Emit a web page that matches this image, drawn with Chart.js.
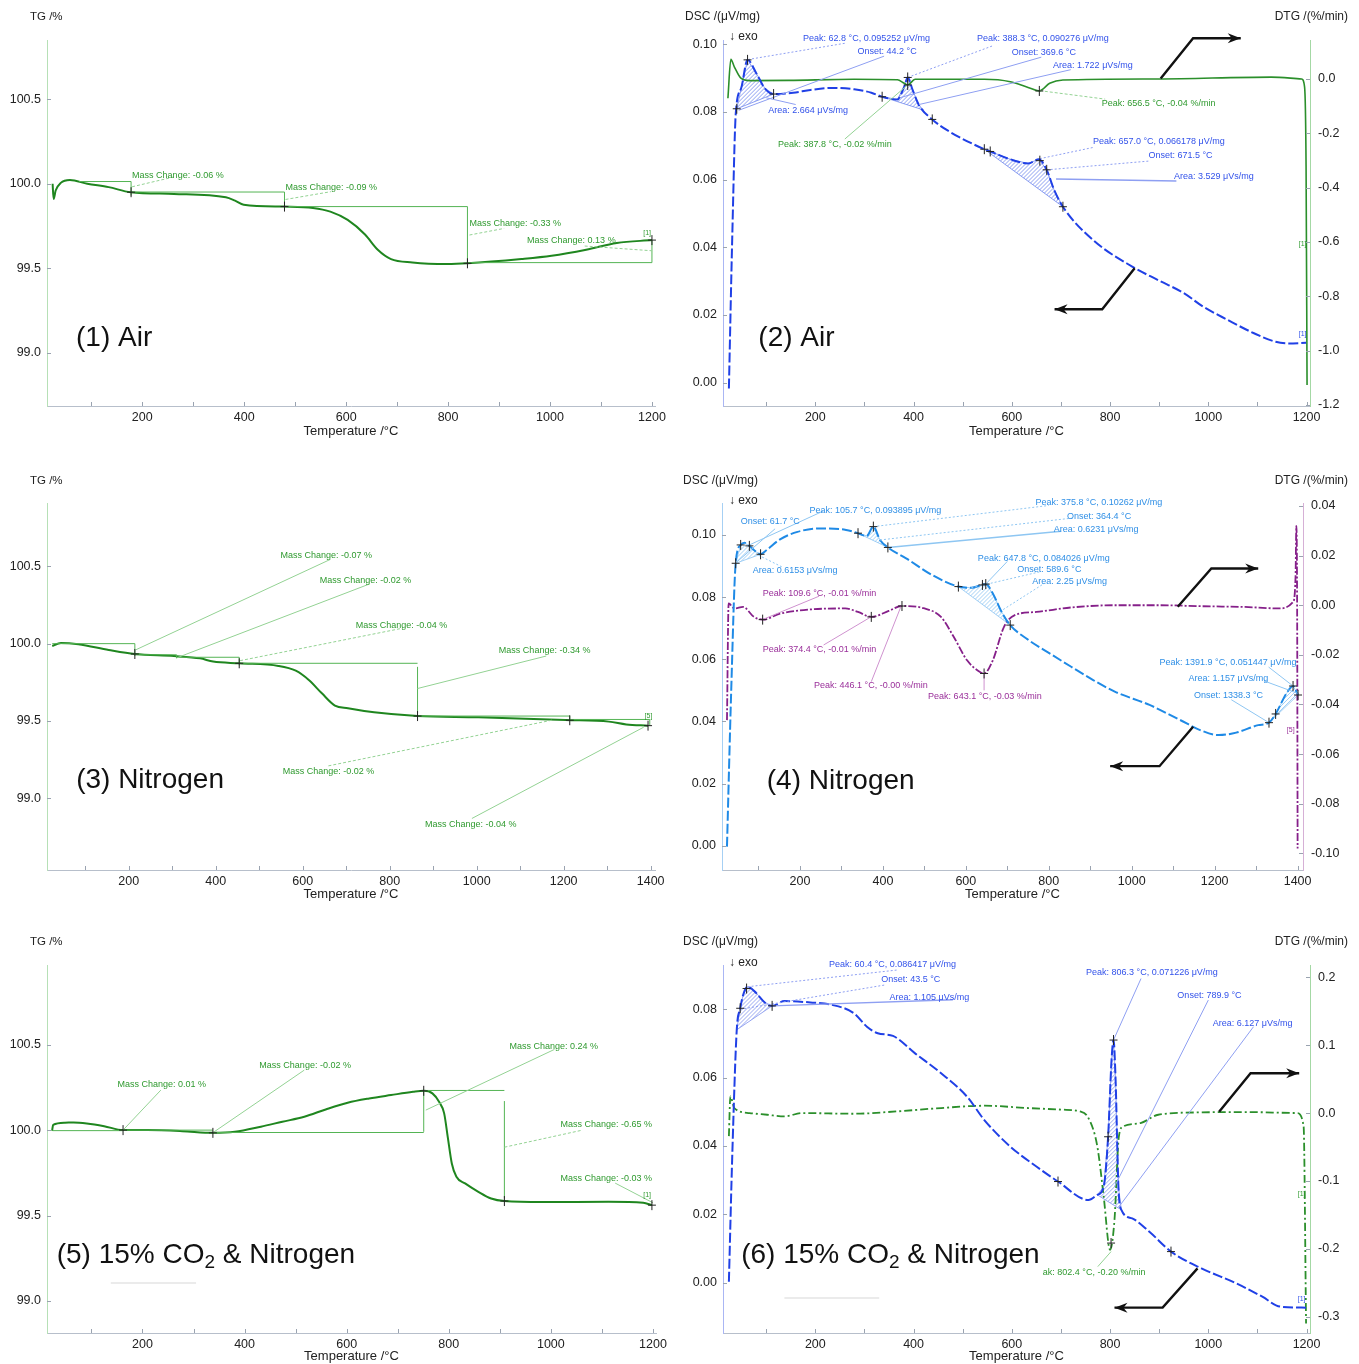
<!DOCTYPE html>
<html>
<head>
<meta charset="utf-8">
<script src="https://cdn.jsdelivr.net/npm/chart.js@4.4.1/dist/chart.umd.min.js"></script>
<style>
  body { margin: 0; background: #fff; width: 1359px; height: 1364px; position: relative; overflow: hidden; }
  canvas { position: absolute; }
</style>
</head>
<body>
<canvas id="c1" width="680" height="460" style="left:0;top:0"></canvas>
<canvas id="c2" width="679" height="460" style="left:680px;top:0"></canvas>
<canvas id="c3" width="680" height="460" style="left:0;top:460px"></canvas>
<canvas id="c4" width="679" height="460" style="left:680px;top:460px"></canvas>
<canvas id="c5" width="680" height="444" style="left:0;top:920px"></canvas>
<canvas id="c6" width="679" height="444" style="left:680px;top:920px"></canvas>
<script>
// ---- data ----
const xTicks1200 = [100, 200, 300, 400, 500, 600, 700, 800, 900, 1000, 1100, 1200];
const xTicks1400 = [100, 200, 300, 400, 500, 600, 700, 800, 900, 1000, 1100, 1200, 1300, 1400];
const tgTicks = [99.0, 99.5, 100.0, 100.5];

// (1) TG, air
const p1T  = [24, 26, 30, 40, 58, 92, 134, 177, 262, 364, 382, 399, 479, 535, 569, 603, 637, 662, 688, 730, 798, 838, 944, 1003, 1071, 1131, 1200];
const p1TG = [100.0, 99.91, 99.96, 100.005, 100.022, 100.0, 99.98, 99.95, 99.94, 99.92, 99.90, 99.876, 99.865, 99.857, 99.835, 99.786, 99.70, 99.61, 99.555, 99.535, 99.526, 99.53, 99.555, 99.574, 99.61, 99.65, 99.667];

// (2) DSC / DTG, air
const p2T   = [24, 31, 38, 49, 62, 80, 97, 115, 155, 190, 235, 279, 314, 336, 367, 381, 388, 398, 411, 438, 473, 544, 562, 597, 633, 655, 671, 686, 704, 765, 845, 898, 951, 987, 1040, 1093, 1137, 1164, 1199];
const p2DSC = [-0.0017, 0.044, 0.0796, 0.087, 0.0954, 0.0914, 0.087, 0.0853, 0.0857, 0.0865, 0.0871, 0.0867, 0.0857, 0.0845, 0.0837, 0.0875, 0.0902, 0.0865, 0.082, 0.0778, 0.0742, 0.069, 0.068, 0.066, 0.0648, 0.066, 0.0629, 0.057, 0.052, 0.0422, 0.0343, 0.0303, 0.0264, 0.0227, 0.0185, 0.0146, 0.0121, 0.0116, 0.0118];
const p2dT  = [22, 28, 35, 49, 66, 146, 279, 367, 381, 388, 403, 544, 597, 633, 656, 677, 704, 898, 1128, 1190, 1196, 1199, 1201];
const p2DTG = [-0.071, 0.072, 0.045, 0.002, -0.006, -0.005, -0.001, -0.003, -0.016, -0.022, -0.001, -0.001, -0.01, -0.031, -0.044, -0.016, -0.004, 0.0, 0.007, 0.0, -0.03, -0.32, -1.126];
const p2DscTicks = [0, 0.02, 0.04, 0.06, 0.08, 0.10];
const p2DtgTicks = [0, -0.2, -0.4, -0.6, -0.8, -1.0, -1.2];

// (3) TG, nitrogen
const p3T  = [24, 44, 84, 154, 214, 304, 364, 394, 454, 544, 584, 614, 644, 674, 704, 764, 864, 1004, 1204, 1304, 1344, 1394];
const p3TG = [99.985, 100.004, 99.996, 99.959, 99.933, 99.92, 99.905, 99.884, 99.873, 99.856, 99.825, 99.765, 99.679, 99.60, 99.582, 99.556, 99.532, 99.524, 99.506, 99.496, 99.478, 99.47];

// (4) DSC / DTG, nitrogen
const p4T   = [24, 34, 45, 57, 66, 78, 94, 105, 120, 152, 194, 246, 299, 330, 361, 377, 393, 412, 456, 519, 582, 613, 648, 665, 686, 707, 749, 802, 854, 907, 959, 1043, 1116, 1169, 1210, 1252, 1305, 1331, 1347, 1373, 1389, 1401];
const p4DSC = [-0.0003, 0.049, 0.0909, 0.0968, 0.0975, 0.0965, 0.0946, 0.0938, 0.0952, 0.0986, 0.101, 0.1021, 0.1019, 0.101, 0.0997, 0.1027, 0.0984, 0.096, 0.0925, 0.0871, 0.0834, 0.083, 0.0842, 0.0812, 0.0753, 0.071, 0.0664, 0.0619, 0.0576, 0.0533, 0.0496, 0.0453, 0.0405, 0.037, 0.0356, 0.0364, 0.0388, 0.0396, 0.0424, 0.049, 0.0514, 0.0485];
const p4dT  = [24, 28, 42, 63, 89, 110, 152, 225, 309, 340, 372, 414, 445, 498, 540, 571, 603, 634, 644, 665, 692, 718, 770, 854, 959, 1064, 1169, 1273, 1357, 1389, 1395, 1397, 1399, 1400];
const p4DTG = [-0.0463, 0.0007, -0.0013, -0.0007, -0.0047, -0.0058, -0.0034, -0.0017, -0.0013, -0.0027, -0.0047, -0.0023, -0.0003, -0.0012, -0.0047, -0.0128, -0.0222, -0.0269, -0.0275, -0.0222, -0.0087, -0.004, -0.0027, -0.0009, 0.0, 0.0, -0.0004, -0.0007, -0.0013, 0.0013, 0.0114, 0.032, -0.0087, -0.098];
const p4DscTicks = [0, 0.02, 0.04, 0.06, 0.08, 0.10];
const p4DtgTicks = [0.04, 0.02, 0, -0.02, -0.04, -0.06, -0.08, -0.10];

// (5) TG, 15% CO2 & nitrogen
const p5T  = [23, 25, 48, 65, 91, 125, 162, 210, 278, 338, 381, 432, 474, 517, 559, 602, 644, 687, 730, 751, 768, 781, 791, 798, 806, 815, 832, 858, 883, 909, 985, 1113, 1181, 1198];
const p5TG = [99.996, 100.03, 100.043, 100.045, 100.039, 100.023, 100.0, 100.0, 99.994, 99.984, 99.99, 100.02, 100.049, 100.078, 100.121, 100.16, 100.185, 100.205, 100.224, 100.23, 100.215, 100.166, 100.098, 99.961, 99.805, 99.727, 99.688, 99.639, 99.6, 99.585, 99.579, 99.581, 99.575, 99.561];

// (6) DSC / DTG, 15% CO2 & nitrogen
const p6T   = [24, 31, 40, 47, 53, 62, 80, 97, 112, 137, 190, 234, 279, 305, 327, 358, 403, 456, 509, 544, 597, 650, 694, 756, 774, 787, 796, 803, 807, 811, 817, 823, 845, 880, 924, 986, 1057, 1110, 1146, 1199];
const p6DSC = [0.0003, 0.0379, 0.074, 0.0803, 0.0842, 0.0866, 0.0847, 0.082, 0.081, 0.0824, 0.082, 0.0813, 0.0788, 0.0749, 0.073, 0.0722, 0.0671, 0.0613, 0.0544, 0.0476, 0.0398, 0.034, 0.0296, 0.0242, 0.0257, 0.0281, 0.0427, 0.0652, 0.071, 0.0603, 0.0281, 0.0213, 0.0188, 0.0149, 0.0091, 0.0042, -0.0002, -0.0041, -0.007, -0.0073];
const p6dT  = [24, 27, 35, 66, 102, 137, 173, 279, 367, 456, 544, 633, 703, 739, 756, 774, 787, 800, 809, 818, 827, 862, 898, 986, 1075, 1181, 1194, 1199];
const p6DTG = [-0.034, 0.0246, 0.0074, 0.0, -0.0025, -0.005, 0.0, -0.001, 0.0025, 0.0074, 0.0108, 0.0074, 0.005, 0.0025, -0.0074, -0.049, -0.123, -0.2014, -0.157, -0.034, -0.0196, -0.0147, -0.0025, 0.001, 0.0015, 0.0, -0.0196, -0.31];
const p6DscTicks = [0, 0.02, 0.04, 0.06, 0.08];
const p6DtgTicks = [0.2, 0.1, 0, -0.1, -0.2, -0.3];

// ---- styles ----
const FONT = '"Liberation Sans", Arial, sans-serif';
const TICK = '#222';
const TG_GREEN = '#1f861f';
const DSC_BLUE = '#2040e6';
const DSC_LBLUE = '#1f8ae6';
const DTG_GREEN = '#2b8f2b';
const DTG_PURPLE = '#86208a';
const TXT_G = '#2f9a2f', TXT_B = '#3252ea', TXT_LB = '#2f8fe6', TXT_P = '#9a2f9a';
const STEP_G = '#54b454', LEAD_G = '#93d293', LEAD_B = '#8e9ff2', LEAD_LB = '#8ec6f2', LEAD_P = '#cf92cf';

function toXY(xs, ys) {
  return xs.map((x, i) => ({ x: x, y: ys[i] }));
}

function valueAt(ds, t) {
  const d = ds.data;
  for (let i = 1; i < d.length; i++) {
    if (d[i].x >= t) {
      const a = d[i - 1], b = d[i];
      return a.y + (b.y - a.y) * (t - a.x) / (b.x - a.x);
    }
  }
  return d[d.length - 1].y;
}

function toPx(chart, axis, x, y) {
  return [chart.scales.x.getPixelForValue(x), chart.scales[axis || 'y'].getPixelForValue(y)];
}

function polyline(ctx, chart, axis, pts) {
  ctx.beginPath();
  pts.forEach((p, i) => {
    const [px, py] = toPx(chart, axis, p[0], p[1]);
    if (i === 0) ctx.moveTo(px, py); else ctx.lineTo(px, py);
  });
  ctx.stroke();
}

function drawHatch(chart, h) {
  const ctx = chart.ctx;
  const ds = chart.data.datasets[h.ds];
  const axis = ds.yAxisID || 'y';
  const pts = [[h.from, valueAt(ds, h.from)]];
  ds.data.forEach((p) => { if (p.x > h.from && p.x < h.to) pts.push([p.x, p.y]); });
  pts.push([h.to, valueAt(ds, h.to)]);
  const pix = pts.map((p) => toPx(chart, axis, p[0], p[1]));
  ctx.save();
  ctx.strokeStyle = h.c;
  ctx.lineWidth = 0.8;
  ctx.beginPath();
  pix.forEach((p, i) => { if (i === 0) ctx.moveTo(p[0], p[1]); else ctx.lineTo(p[0], p[1]); });
  ctx.closePath();
  ctx.stroke();
  ctx.clip();
  const xs = pix.map((p) => p[0]), ys = pix.map((p) => p[1]);
  const x0 = Math.min(...xs), x1 = Math.max(...xs), y0 = Math.min(...ys), y1 = Math.max(...ys);
  ctx.beginPath();
  for (let k = x0 - (y1 - y0); k < x1; k += 4) {
    ctx.moveTo(k, y1);
    ctx.lineTo(k + (y1 - y0), y0);
  }
  ctx.stroke();
  ctx.restore();
}

const deco = {
  id: 'deco',
  beforeDatasetsDraw(chart, args, o) {
    (o.hatches || []).forEach((h) => drawHatch(chart, h));
  },
  afterDatasetsDraw(chart, args, o) {
    const ctx = chart.ctx;
    const area = chart.chartArea;
    ctx.save();
    // inner tick marks
    ctx.strokeStyle = '#9aa3b0';
    ctx.lineWidth = 1;
    ctx.beginPath();
    chart.scales.x.ticks.forEach((t) => {
      const x = Math.round(chart.scales.x.getPixelForValue(t.value)) + 0.5;
      ctx.moveTo(x, area.bottom); ctx.lineTo(x, area.bottom - 4);
    });
    ['y', 'y2'].forEach((id) => {
      const s = chart.scales[id];
      if (!s) return;
      const edge = id === 'y' ? area.left : area.right;
      const dir = id === 'y' ? 4 : -4;
      s.ticks.forEach((t) => {
        const y = Math.round(s.getPixelForValue(t.value)) + 0.5;
        ctx.moveTo(edge, y); ctx.lineTo(edge + dir, y);
      });
    });
    ctx.stroke();

    // annotation lines
    (o.lines || []).forEach((l) => {
      ctx.strokeStyle = l.c;
      ctx.lineWidth = l.w || 1;
      ctx.setLineDash(l.d || []);
      polyline(ctx, chart, l.a, l.p);
    });
    ctx.setLineDash([]);

    // cross markers
    ctx.strokeStyle = '#222';
    ctx.lineWidth = 1;
    (o.marks || []).forEach((m) => {
      const ds = chart.data.datasets[m.ds];
      m.at.forEach((t) => {
        const [x, y] = toPx(chart, ds.yAxisID || 'y', t, valueAt(ds, t));
        ctx.beginPath();
        ctx.moveTo(x - 4, y); ctx.lineTo(x + 4, y);
        ctx.moveTo(x, y - 5); ctx.lineTo(x, y + 5);
        ctx.stroke();
      });
    });

    // black arrows
    (o.arrows || []).forEach((a) => {
      ctx.strokeStyle = '#111';
      ctx.fillStyle = '#111';
      ctx.lineWidth = 2.4;
      polyline(ctx, chart, 'y', a);
      const [ax, ay] = toPx(chart, 'y', a[a.length - 2][0], a[a.length - 2][1]);
      const [bx, by] = toPx(chart, 'y', a[a.length - 1][0], a[a.length - 1][1]);
      const ang = Math.atan2(by - ay, bx - ax);
      ctx.beginPath();
      ctx.moveTo(bx, by);
      ctx.lineTo(bx - 13 * Math.cos(ang) + 5 * Math.sin(ang), by - 13 * Math.sin(ang) - 5 * Math.cos(ang));
      ctx.lineTo(bx - 9 * Math.cos(ang), by - 9 * Math.sin(ang));
      ctx.lineTo(bx - 13 * Math.cos(ang) - 5 * Math.sin(ang), by - 13 * Math.sin(ang) + 5 * Math.cos(ang));
      ctx.closePath();
      ctx.fill();
    });

    // small annotation texts
    ctx.textBaseline = 'middle';
    ctx.textAlign = 'left';
    (o.texts || []).forEach((t) => {
      ctx.font = (t.s || 9) + 'px ' + FONT;
      ctx.fillStyle = t.c;
      const [x, y] = toPx(chart, t.a, t.x, t.y);
      ctx.fillText(t.t, x, y);
    });

    // big panel labels
    (o.rich || []).forEach((r) => {
      let [x, y] = toPx(chart, r.a, r.x, r.y);
      ctx.fillStyle = '#111';
      ctx.textBaseline = 'alphabetic';
      r.parts.forEach((p) => {
        ctx.font = p[1] + 'px ' + FONT;
        ctx.fillText(p[0], x, y + 10 + p[2]);
        x += ctx.measureText(p[0]).width;
      });
    });

    // headers (axis names) and x axis title
    ctx.fillStyle = '#222';
    ctx.textBaseline = 'middle';
    (o.head || []).forEach((h) => {
      ctx.font = (h.s || 12) + 'px ' + FONT;
      ctx.textAlign = h.al || 'left';
      ctx.fillText(h.t, h.x, h.y);
    });
    ctx.font = '13px ' + FONT;
    ctx.textAlign = 'center';
    ctx.fillText('Temperature /°C', (area.left + area.right) / 2, area.bottom + o.titleDy);
    ctx.restore();
  }
};
Chart.register(deco);

function yAxis(pos, a, w) {
  return {
    type: 'linear', position: pos, min: a.min, max: a.max,
    afterBuildTicks: (s) => { s.ticks = a.ticks.map((v) => ({ value: v })); },
    afterFit: (s) => { s.width = w; },
    ticks: { padding: pos === 'left' ? 6 : 8, color: TICK, font: { family: FONT, size: 12.5 }, callback: (v) => v.toFixed(a.dec) },
    grid: { display: false, drawTicks: false },
    border: { display: true, color: a.color, width: 1 },
  };
}

function build(id, o) {
  const scales = {
    x: {
      type: 'linear', min: o.xMin, max: o.xMax,
      afterBuildTicks: (s) => { s.ticks = o.xTicks.map((v) => ({ value: v })); },
      afterFit: (s) => { s.height = o.xH; },
      ticks: { autoSkip: false, maxRotation: 0, padding: 4, color: TICK, font: { family: FONT, size: 12.5 },
        callback: (v) => (v % 200 === 0 ? String(v) : '') },
      grid: { display: false, drawTicks: false },
      border: { display: true, color: '#b7bfcb', width: 1 },
    },
    y: yAxis('left', o.y, o.yW),
  };
  if (o.y2) scales.y2 = yAxis('right', o.y2, o.y2W);
  new Chart(document.getElementById(id), {
    type: 'line',
    data: { datasets: o.datasets },
    options: {
      responsive: false, animation: false, events: [],
      layout: { padding: { top: o.top, right: o.padR || 0, left: 0, bottom: 0 } },
      plugins: { legend: { display: false }, tooltip: { enabled: false }, deco: o.deco },
      elements: { point: { radius: 0 }, line: { cubicInterpolationMode: 'monotone', borderCapStyle: 'butt' } },
      scales: scales,
    },
  });
}

// ---- (1) ----
build('c1', {
  xMin: 13, xMax: 1206, xTicks: xTicks1200, xH: 54, top: 40, padR: 25, yW: 47,
  y: { min: 98.687, max: 100.849, ticks: tgTicks, dec: 1, color: '#b6e0b6' },
  datasets: [{ data: toXY(p1T, p1TG), borderColor: TG_GREEN, borderWidth: 2 }],
  deco: {
    titleDy: 25,
    head: [{ t: 'TG /%', x: 30, y: 17, s: 11.5 }],
    lines: [
      { c: STEP_G, p: [[76, 100.013], [178, 100.013], [178, 99.93]] },
      { c: STEP_G, p: [[178, 99.951], [479, 99.951], [479, 99.85]] },
      { c: STEP_G, p: [[479, 99.865], [838, 99.865], [838, 99.525]] },
      { c: STEP_G, p: [[838, 99.534], [1200, 99.534], [1200, 99.667]] },
      { c: LEAD_G, d: [3, 2], p: [[180, 99.982], [262, 100.04]] },
      { c: LEAD_G, d: [3, 2], p: [[481, 99.907], [570, 99.953]] },
      { c: LEAD_G, d: [3, 2], p: [[842, 99.697], [910, 99.736]] },
      { c: LEAD_G, d: [3, 2], p: [[1068, 99.632], [1200, 99.604]] },
    ],
    marks: [{ ds: 0, at: [178, 479, 838, 1200] }],
    texts: [
      { t: 'Mass Change: -0.06 %', x: 180, y: 100.047, c: TXT_G },
      { t: 'Mass Change: -0.09 %', x: 481, y: 99.976, c: TXT_G },
      { t: 'Mass Change: -0.33 %', x: 842, y: 99.766, c: TXT_G },
      { t: 'Mass Change: 0.13 %', x: 955, y: 99.667, c: TXT_G },
      { t: '[1]', x: 1183, y: 99.71, c: TXT_G, s: 7 },
    ],
    rich: [{ x: 70, y: 99.102, parts: [['(1) Air', 28, 0]] }],
  },
});

// ---- (2) ----
build('c2', {
  xMin: 12, xMax: 1207, xTicks: xTicks1200, xH: 54, top: 40, yW: 43, y2W: 49,
  y: { min: -0.00689, max: 0.10127, ticks: p2DscTicks, dec: 2, color: '#aab6f4' },
  y2: { min: -1.2037, max: 0.1435, ticks: p2DtgTicks, dec: 1, color: '#a4d8a4' },
  datasets: [
    { data: toXY(p2T, p2DSC), borderColor: DSC_BLUE, borderWidth: 2, borderDash: [10, 3], yAxisID: 'y' },
    { data: toXY(p2dT, p2DTG), borderColor: DTG_GREEN, borderWidth: 1.6, yAxisID: 'y2' },
  ],
  deco: {
    titleDy: 25,
    head: [
      { t: 'DSC /(μV/mg)', x: 5, y: 17 },
      { t: 'DTG /(%/min)', x: 668, y: 17, al: 'right' },
      { t: '↓ exo', x: 49, y: 37 },
    ],
    hatches: [
      { ds: 0, from: 40, to: 115, c: '#6f86ee' },
      { ds: 0, from: 336, to: 420, c: '#6f86ee' },
      { ds: 0, from: 544, to: 704, c: '#6f86ee' },
    ],
    lines: [
      { c: LEAD_B, d: [2, 2], p: [[63, 0.0955], [260, 0.1003]] },
      { c: LEAD_B, p: [[44, 0.0805], [340, 0.0965]] },
      { c: LEAD_B, d: [2, 2], p: [[388, 0.0902], [560, 0.0995]] },
      { c: LEAD_B, p: [[372, 0.0842], [660, 0.0962]] },
      { c: LEAD_B, p: [[411, 0.0822], [720, 0.0925]] },
      { c: LEAD_B, p: [[100, 0.0842], [160, 0.0822]] },
      { c: LEAD_B, d: [2, 2], p: [[657, 0.0662], [765, 0.0695]] },
      { c: LEAD_B, d: [2, 2], p: [[671, 0.0629], [880, 0.0655]] },
      { c: LEAD_B, w: 1.4, p: [[690, 0.0602], [935, 0.0596]] },
      { c: LEAD_G, p: [[388, 0.088], [260, 0.072]] },
      { c: LEAD_G, d: [3, 2], p: [[657, 0.0863], [790, 0.0838]] },
    ],
    marks: [
      { ds: 0, at: [40, 62, 115, 336, 388, 438, 544, 556, 657, 671, 704] },
      { ds: 1, at: [388, 656] },
    ],
    arrows: [
      [[903, 0.0899], [969, 0.1018], [1066, 0.1018]],
      [[850, 0.0338], [784, 0.0217], [687, 0.0217]],
    ],
    texts: [
      { t: 'Peak: 62.8 °C, 0.095252 μV/mg', x: 175, y: 0.1018, c: TXT_B },
      { t: 'Onset: 44.2 °C', x: 286, y: 0.0978, c: TXT_B },
      { t: 'Peak: 388.3 °C, 0.090276 μV/mg', x: 529, y: 0.1018, c: TXT_B },
      { t: 'Onset: 369.6 °C', x: 600, y: 0.0975, c: TXT_B },
      { t: 'Area: 1.722 μVs/mg', x: 684, y: 0.0936, c: TXT_B },
      { t: 'Area: 2.664 μVs/mg', x: 104, y: 0.0804, c: TXT_B },
      { t: 'Peak: 657.0 °C, 0.066178 μV/mg', x: 765, y: 0.0714, c: TXT_B },
      { t: 'Onset: 671.5 °C', x: 878, y: 0.067, c: TXT_B },
      { t: 'Area: 3.529 μVs/mg', x: 930, y: 0.0609, c: TXT_B },
      { t: 'Peak: 387.8 °C, -0.02 %/min', x: 124, y: 0.0705, c: TXT_G },
      { t: 'Peak: 656.5 °C, -0.04 %/min', x: 783, y: 0.0826, c: TXT_G },
      { t: '[1]', x: 1184, y: 0.041, c: TXT_G, s: 7 },
      { t: '[1]', x: 1184, y: 0.0143, c: TXT_B, s: 7 },
    ],
    rich: [{ x: 84, y: 0.0138, parts: [['(2) Air', 28, 0]] }],
  },
});

// ---- (3) ----
build('c3', {
  xMin: 12, xMax: 1410, xTicks: xTicks1400, xH: 50, top: 43, padR: 25, yW: 47,
  y: { min: 98.537, max: 100.909, ticks: tgTicks, dec: 1, color: '#b6e0b6' },
  datasets: [{ data: toXY(p3T, p3TG), borderColor: TG_GREEN, borderWidth: 2 }],
  deco: {
    titleDy: 24,
    head: [{ t: 'TG /%', x: 30, y: 21, s: 11.5 }],
    lines: [
      { c: STEP_G, p: [[24, 100.0], [214, 100.0], [214, 99.92]] },
      { c: STEP_G, p: [[214, 99.928], [310, 99.928], [310, 99.905]] },
      { c: STEP_G, p: [[310, 99.912], [454, 99.912], [454, 99.86]] },
      { c: STEP_G, p: [[454, 99.873], [864, 99.873]] },
      { c: STEP_G, p: [[864, 99.85], [864, 99.55]] },
      { c: STEP_G, p: [[864, 99.532], [1214, 99.532], [1214, 99.51]] },
      { c: STEP_G, p: [[1214, 99.51], [1398, 99.51], [1398, 99.47]] },
      { c: LEAD_G, p: [[216, 99.96], [664, 100.545]] },
      { c: LEAD_G, p: [[312, 99.91], [754, 100.386]] },
      { c: LEAD_G, d: [3, 2], p: [[456, 99.89], [830, 100.1]] },
      { c: LEAD_G, p: [[864, 99.71], [1160, 99.92]] },
      { c: LEAD_G, d: [3, 2], p: [[659, 99.21], [1174, 99.506]] },
      { c: LEAD_G, p: [[989, 98.87], [1384, 99.46]] },
    ],
    marks: [{ ds: 0, at: [214, 454, 864, 1214, 1394] }],
    texts: [
      { t: 'Mass Change: -0.07 %', x: 549, y: 100.567, c: TXT_G },
      { t: 'Mass Change: -0.02 %', x: 639, y: 100.407, c: TXT_G },
      { t: 'Mass Change: -0.04 %', x: 722, y: 100.114, c: TXT_G },
      { t: 'Mass Change: -0.34 %', x: 1051, y: 99.957, c: TXT_G },
      { t: 'Mass Change: -0.02 %', x: 554, y: 99.172, c: TXT_G },
      { t: 'Mass Change: -0.04 %', x: 881, y: 98.828, c: TXT_G },
      { t: '[5]', x: 1386, y: 99.53, c: TXT_G, s: 7 },
    ],
    rich: [{ x: 79, y: 99.132, parts: [['(3) Nitrogen', 28, 0]] }],
  },
});

// ---- (4) ----
build('c4', {
  xMin: 12, xMax: 1413, xTicks: xTicks1400, xH: 50, top: 43, yW: 42, y2W: 56,
  y: { min: -0.00782, max: 0.1103, ticks: p4DscTicks, dec: 2, color: '#a6d0f4' },
  y2: { min: -0.1067, max: 0.0412, ticks: p4DtgTicks, dec: 2, color: '#d6b0d6' },
  datasets: [
    { data: toXY(p4T, p4DSC), borderColor: DSC_LBLUE, borderWidth: 2, borderDash: [10, 3], yAxisID: 'y' },
    { data: toXY(p4dT, p4DTG), borderColor: DTG_PURPLE, borderWidth: 1.8, borderDash: [8, 2, 2, 2], yAxisID: 'y2' },
  ],
  deco: {
    titleDy: 24,
    head: [
      { t: 'DSC /(μV/mg)', x: 3, y: 21 },
      { t: 'DTG /(%/min)', x: 668, y: 21, al: 'right' },
      { t: '↓ exo', x: 49, y: 41 },
    ],
    hatches: [
      { ds: 0, from: 45, to: 105, c: '#8cc4f2' },
      { ds: 0, from: 340, to: 412, c: '#8cc4f2' },
      { ds: 0, from: 582, to: 707, c: '#8cc4f2' },
      { ds: 0, from: 1331, to: 1401, c: '#8cc4f2' },
    ],
    lines: [
      { c: LEAD_LB, p: [[78, 0.0968], [256, 0.1077]] },
      { c: LEAD_LB, p: [[45, 0.091], [140, 0.102]] },
      { c: LEAD_LB, d: [2, 2], p: [[100, 0.0935], [160, 0.0895]] },
      { c: LEAD_LB, d: [2, 2], p: [[377, 0.1027], [800, 0.1095]] },
      { c: LEAD_LB, d: [2, 2], p: [[393, 0.0984], [860, 0.1055]] },
      { c: LEAD_LB, w: 1.4, p: [[412, 0.096], [830, 0.1012]] },
      { c: LEAD_LB, p: [[648, 0.0842], [700, 0.0915]] },
      { c: LEAD_LB, d: [2, 2], p: [[613, 0.083], [780, 0.0882]] },
      { c: LEAD_LB, d: [2, 2], p: [[690, 0.076], [790, 0.0845]] },
      { c: LEAD_LB, p: [[1389, 0.0514], [1330, 0.0575]] },
      { c: LEAD_LB, p: [[1331, 0.0396], [1240, 0.047]] },
      { c: LEAD_LB, p: [[1401, 0.049], [1320, 0.053]] },
      { c: LEAD_P, p: [[110, 0.0728], [246, 0.0803]] },
      { c: LEAD_P, p: [[372, 0.0737], [257, 0.0646]] },
      { c: LEAD_P, p: [[445, 0.0775], [372, 0.0528]] },
      { c: LEAD_P, p: [[644, 0.0555], [644, 0.0500]] },
    ],
    marks: [
      { ds: 0, at: [45, 57, 78, 105, 340, 377, 412, 582, 640, 648, 707, 1331, 1347, 1389, 1401] },
      { ds: 1, at: [110, 372, 446, 644] },
    ],
    arrows: [
      [[1111, 0.0769], [1192, 0.0892], [1305, 0.0892]],
      [[1148, 0.0383], [1067, 0.0256], [948, 0.0256]],
    ],
    texts: [
      { t: 'Peak: 105.7 °C, 0.093895 μV/mg', x: 223, y: 0.108, c: TXT_LB },
      { t: 'Onset: 61.7 °C', x: 57, y: 0.1042, c: TXT_LB },
      { t: 'Area: 0.6153 μVs/mg', x: 86, y: 0.0887, c: TXT_LB },
      { t: 'Peak: 375.8 °C, 0.10262 μV/mg', x: 768, y: 0.1104, c: TXT_LB },
      { t: 'Onset: 364.4 °C', x: 844, y: 0.1061, c: TXT_LB },
      { t: 'Area: 0.6231 μVs/mg', x: 812, y: 0.1018, c: TXT_LB },
      { t: 'Peak: 647.8 °C, 0.084026 μV/mg', x: 629, y: 0.0923, c: TXT_LB },
      { t: 'Onset: 589.6 °C', x: 724, y: 0.089, c: TXT_LB },
      { t: 'Area: 2.25 μVs/mg', x: 760, y: 0.0849, c: TXT_LB },
      { t: 'Peak: 1391.9 °C, 0.051447 μV/mg', x: 1067, y: 0.0589, c: TXT_LB },
      { t: 'Area: 1.157 μVs/mg', x: 1137, y: 0.0539, c: TXT_LB },
      { t: 'Onset: 1338.3 °C', x: 1150, y: 0.0484, c: TXT_LB },
      { t: 'Peak: 109.6 °C, -0.01 %/min', x: 110, y: 0.0813, c: TXT_P },
      { t: 'Peak: 374.4 °C, -0.01 %/min', x: 110, y: 0.0632, c: TXT_P },
      { t: 'Peak: 446.1 °C, -0.00 %/min', x: 234, y: 0.0515, c: TXT_P },
      { t: 'Peak: 643.1 °C, -0.03 %/min', x: 509, y: 0.048, c: TXT_P },
      { t: '[5]', x: 1374, y: 0.0372, c: TXT_P, s: 7 },
    ],
    rich: [{ x: 120, y: 0.0215, parts: [['(4) Nitrogen', 28, 0]] }],
  },
});

// ---- (5) ----
build('c5', {
  xMin: 13, xMax: 1206, xTicks: xTicks1200, xH: 31, top: 45, padR: 24, yW: 47,
  y: { min: 98.813, max: 100.966, ticks: tgTicks, dec: 1, color: '#b6e0b6' },
  datasets: [{ data: toXY(p5T, p5TG), borderColor: TG_GREEN, borderWidth: 2 }],
  deco: {
    titleDy: 23,
    head: [{ t: 'TG /%', x: 30, y: 22, s: 11.5 }],
    lines: [
      { c: STEP_G, p: [[24, 99.997], [162, 99.997]] },
      { c: STEP_G, p: [[162, 100.0], [338, 100.0]] },
      { c: STEP_G, p: [[338, 99.986], [751, 99.986]] },
      { c: STEP_G, p: [[751, 100.232], [751, 99.99]] },
      { c: STEP_G, p: [[751, 100.232], [909, 100.232]] },
      { c: STEP_G, p: [[909, 100.17], [909, 99.6]] },
      { c: LEAD_G, p: [[162, 100.0], [236, 100.234]] },
      { c: LEAD_G, p: [[338, 99.985], [517, 100.351]] },
      { c: LEAD_G, p: [[755, 100.117], [1007, 100.472]] },
      { c: LEAD_G, d: [3, 2], p: [[909, 99.9], [1062, 100.0]] },
      { c: LEAD_G, p: [[1126, 99.69], [1200, 99.575]] },
      { c: '#e4e4e4', w: 1.5, p: [[138, 99.106], [305, 99.106]] },
    ],
    marks: [{ ds: 0, at: [162, 338, 751, 909, 1198] }],
    texts: [
      { t: 'Mass Change: 0.01 %', x: 151, y: 100.265, c: TXT_G },
      { t: 'Mass Change: -0.02 %', x: 429, y: 100.376, c: TXT_G },
      { t: 'Mass Change: 0.24 %', x: 919, y: 100.49, c: TXT_G },
      { t: 'Mass Change: -0.65 %', x: 1019, y: 100.031, c: TXT_G },
      { t: 'Mass Change: -0.03 %', x: 1019, y: 99.715, c: TXT_G },
      { t: '[1]', x: 1181, y: 99.62, c: TXT_G, s: 7 },
    ],
    rich: [{ x: 32, y: 99.281, parts: [['(5) 15% CO', 28, 0], ['2', 19, 5], [' & Nitrogen', 28, 0]] }],
  },
});

// ---- (6) ----
build('c6', {
  xMin: 12, xMax: 1207, xTicks: xTicks1200, xH: 31, top: 45, yW: 43, y2W: 49,
  y: { min: -0.01472, max: 0.09296, ticks: p6DscTicks, dec: 2, color: '#aab6f4' },
  y2: { min: -0.324, max: 0.2181, ticks: p6DtgTicks, dec: 1, color: '#a4d8a4' },
  datasets: [
    { data: toXY(p6T, p6DSC), borderColor: DSC_BLUE, borderWidth: 2, borderDash: [10, 3], yAxisID: 'y' },
    { data: toXY(p6dT, p6DTG), borderColor: DTG_GREEN, borderWidth: 1.8, borderDash: [8, 3, 2, 3], yAxisID: 'y2' },
  ],
  deco: {
    titleDy: 23,
    head: [
      { t: 'DSC /(μV/mg)', x: 3, y: 22 },
      { t: 'DTG /(%/min)', x: 668, y: 22, al: 'right' },
      { t: '↓ exo', x: 49, y: 43 },
    ],
    hatches: [
      { ds: 0, from: 40, to: 112, c: '#7f92ee' },
      { ds: 0, from: 774, to: 823, c: '#7f92ee' },
    ],
    lines: [
      { c: LEAD_B, d: [2, 2], p: [[62, 0.0866], [367, 0.0915]] },
      { c: LEAD_B, d: [2, 2], p: [[47, 0.08], [341, 0.0871]] },
      { c: LEAD_B, w: 1.4, p: [[112, 0.081], [480, 0.0828]] },
      { c: LEAD_B, p: [[807, 0.071], [863, 0.089]] },
      { c: LEAD_B, p: [[809, 0.0281], [1000, 0.0827]] },
      { c: LEAD_B, p: [[818, 0.0222], [1092, 0.0749]] },
      { c: LEAD_G, p: [[802, 0.0091], [775, 0.0047]] },
      { c: '#e4e4e4', w: 1.5, p: [[137, -0.0045], [330, -0.0045]] },
    ],
    marks: [
      { ds: 0, at: [47, 60, 112, 694, 796, 807, 924] },
      { ds: 1, at: [802] },
    ],
    arrows: [
      [[1022, 0.05], [1086, 0.0613], [1185, 0.0613]],
      [[978, 0.0042], [907, -0.0073], [809, -0.0073]],
    ],
    texts: [
      { t: 'Peak: 60.4 °C, 0.086417 μV/mg', x: 228, y: 0.0932, c: TXT_B },
      { t: 'Onset: 43.5 °C', x: 334, y: 0.0886, c: TXT_B },
      { t: 'Area: 1.105 μVs/mg', x: 351, y: 0.0834, c: TXT_B },
      { t: 'Peak: 806.3 °C, 0.071226 μV/mg', x: 751, y: 0.0907, c: TXT_B },
      { t: 'Onset: 789.9 °C', x: 937, y: 0.0839, c: TXT_B },
      { t: 'Area: 6.127 μVs/mg', x: 1009, y: 0.0759, c: TXT_B },
      { t: 'ak: 802.4 °C, -0.20 %/min', x: 663, y: 0.003, c: TXT_G },
      { t: '[1]', x: 1182, y: 0.0258, c: TXT_G, s: 7 },
      { t: '[1]', x: 1182, y: -0.0049, c: TXT_B, s: 7 },
    ],
    rich: [{ x: 49, y: 0.0087, parts: [['(6) 15% CO', 28, 0], ['2', 19, 5], [' & Nitrogen', 28, 0]] }],
  },
});
</script>
</body>
</html>
